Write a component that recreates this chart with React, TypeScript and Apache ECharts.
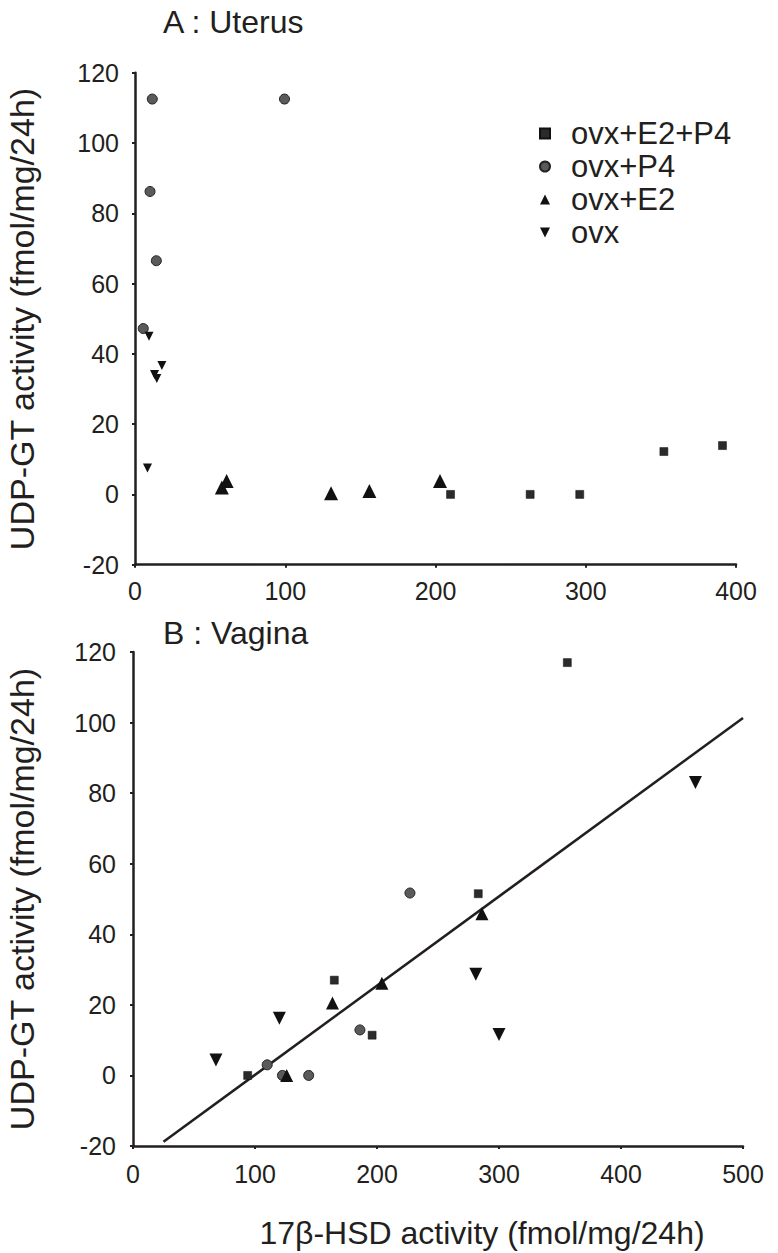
import React, { useEffect, useRef } from "react";
import * as echarts from "echarts";

// Panel A: uterus — [17β-HSD activity, UDP-GT activity]
const uterusE2P4 = [[210, 0], [263, 0], [296, 0], [352, 12.2], [391, 13.9]];
const uterusP4 = [[11.5, 112.5], [99.5, 112.5], [10, 86.2], [14.2, 66.5], [5.5, 47.2]];
const uterusE2 = [[57.8, 2.0], [61, 3.8], [130.5, 0.3], [156, 1.0], [203, 3.8]];
const uterusOvx = [[9.3, 45], [17.9, 36.7], [13, 34.1], [14.5, 33], [8.3, 7.5]];

// Panel B: vagina
const vaginaE2P4 = [[356, 117], [283, 51.5], [165, 27], [196, 11.4], [94, 0]];
const vaginaP4 = [[227, 51.7], [186, 12.9], [110, 3], [122.5, 0], [144, 0]];
const vaginaE2 = [[286, 45.8], [204, 26.1], [163.5, 20.5], [126, 0]];
const vaginaOvx = [[461, 83], [281, 28.7], [120, 16.2], [300, 11.6], [68, 4.4]];
// Regression line end points
const vaginaFit = [[25, -18.8], [500, 101.3]];

const groupNames = ["ovx+E2+P4", "ovx+P4", "ovx+E2", "ovx"];
const yTicks = { min: -20, max: 120, interval: 20 };
const uterusX = { min: 0, max: 400, interval: 100 };
const vaginaX = { min: 0, max: 500, interval: 100 };

const INK = "#231f20";
const FONT = "'Liberation Sans', Arial, Helvetica, sans-serif";
const DOWN = "path://M0,0 L10,0 L5,10 Z";

export default function App() {
  const ref = useRef<HTMLDivElement>(null);

  useEffect(() => {
    if (!ref.current) return;
    const chart = echarts.init(ref.current, null, { renderer: "svg" });

    const axisCommon = {
      axisLine: { show: true, onZero: false, lineStyle: { color: INK, width: 2.5 } },
      axisTick: { show: true, length: 3, lineStyle: { color: INK, width: 2 } },
      splitLine: { show: false },
      axisLabel: { color: INK, fontSize: 25, fontFamily: FONT },
    };

    const styles: Record<string, any> = {
      "ovx+E2+P4": { symbol: "rect", color: "#2b2b2b", border: "#111", w: 0.5 },
      "ovx+P4": { symbol: "circle", color: "#5a5a5a", border: "#222", w: 1 },
      "ovx+E2": { symbol: "triangle", color: "#111", border: "#111", w: 0 },
      ovx: { symbol: "triangle", color: "#111", border: "#111", w: 0, rot: 180 },
    };

    const scatter = (name: string, data: number[][], idx: number, size: number) => ({
      name,
      type: "scatter",
      xAxisIndex: idx,
      yAxisIndex: idx,
      data,
      symbol: styles[name].symbol,
      symbolRotate: styles[name].rot || 0,
      symbolSize: size,
      itemStyle: {
        color: styles[name].color,
        borderColor: styles[name].border,
        borderWidth: styles[name].w,
        opacity: 1,
      },
      emphasis: { disabled: true },
      z: 3,
    });

    const yTitle = (y: number) => ({
      type: "text",
      x: 22,
      y,
      rotation: Math.PI / 2,
      style: {
        text: "UDP-GT activity (fmol/mg/24h)",
        fontSize: 34,
        fontFamily: FONT,
        fill: INK,
        align: "center",
        verticalAlign: "middle",
      },
    });

    chart.setOption({
      animation: false,
      backgroundColor: "#ffffff",
      textStyle: { fontFamily: FONT },
      grid: [
        { left: 135, top: 72.7, width: 601, height: 492, containLabel: false },
        { left: 133, top: 652, width: 610, height: 494, containLabel: false },
      ],
      xAxis: [
        { type: "value", gridIndex: 0, ...uterusX, ...axisCommon, axisLabel: { ...axisCommon.axisLabel, margin: 14 } },
        { type: "value", gridIndex: 1, ...vaginaX, ...axisCommon, axisLabel: { ...axisCommon.axisLabel, margin: 15 } },
      ],
      yAxis: [
        { type: "value", gridIndex: 0, ...yTicks, ...axisCommon, axisLabel: { ...axisCommon.axisLabel, margin: 16 } },
        { type: "value", gridIndex: 1, ...yTicks, ...axisCommon, axisLabel: { ...axisCommon.axisLabel, margin: 17 } },
      ],
      legend: {
        orient: "vertical",
        left: 534,
        top: 113,
        itemWidth: 10,
        itemHeight: 10,
        itemGap: 2,
        selectedMode: false,
        textStyle: { color: INK, fontSize: 31, fontFamily: FONT, lineHeight: 30, padding: [0, 0, 0, 16] },
        data: [
          { name: groupNames[0], icon: "rect", itemStyle: { color: "#2b2b2b" } },
          { name: groupNames[1], icon: "circle", itemStyle: { color: "#5a5a5a" } },
          { name: groupNames[2], icon: "triangle", itemStyle: { color: "#111" } },
          { name: groupNames[3], icon: DOWN, itemStyle: { color: "#111" } },
        ],
      },
      graphic: [
        { type: "text", left: 163, top: 6, style: { text: "A : Uterus", fontSize: 32, fontFamily: FONT, fill: INK } },
        { type: "text", left: 163, top: 617, style: { text: "B : Vagina", fontSize: 32, fontFamily: FONT, fill: INK } },
        yTitle(319),
        yTitle(899),
        {
          type: "text",
          x: 482,
          y: 1233,
          style: { text: "17β-HSD activity (fmol/mg/24h)", fontSize: 32, fontFamily: FONT, fill: INK, align: "center", verticalAlign: "middle" },
        },
      ],
      series: [
        scatter(groupNames[0], uterusE2P4, 0, 8),
        scatter(groupNames[1], uterusP4, 0, 10),
        scatter(groupNames[2], uterusE2, 0, 14),
        scatter(groupNames[3], uterusOvx, 0, 9),
        {
          name: "fit",
          type: "line",
          xAxisIndex: 1,
          yAxisIndex: 1,
          data: vaginaFit,
          symbol: "none",
          lineStyle: { color: INK, width: 2.5 },
          emphasis: { disabled: true },
          z: 2,
        },
        scatter(groupNames[0], vaginaE2P4, 1, 8),
        scatter(groupNames[1], vaginaP4, 1, 10),
        scatter(groupNames[2], vaginaE2, 1, 13),
        scatter(groupNames[3], vaginaOvx, 1, 13),
      ],
    });

    return () => chart.dispose();
  }, []);

  return (
    <div
      ref={ref}
      style={{ position: "absolute", left: 0, top: 0, width: 778, height: 1253, background: "#fff" }}
    />
  );
}
